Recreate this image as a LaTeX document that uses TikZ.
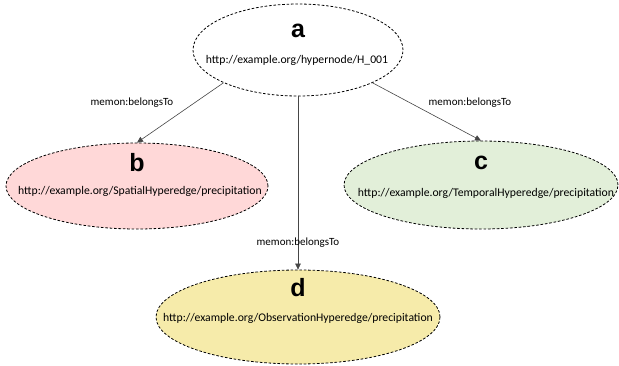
\documentclass[tikz,border=0pt]{standalone}
\usepackage{fontspec}
\setmainfont{Carlito}
\newfontfamily\letterfont{Liberation Sans}
\usetikzlibrary{shapes.geometric,arrows.meta}
\definecolor{spatialfill}{RGB}{255,216,216}
\definecolor{temporalfill}{RGB}{226,239,217}
\definecolor{observfill}{RGB}{246,235,170}
\definecolor{edgegray}{RGB}{70,70,70}
\tikzset{
  hnode/.style={ellipse, draw=black, line width=0.8pt, dash pattern=on 2.6pt off 1.8pt, inner sep=0pt},
  letter/.style={font=\letterfont\bfseries\fontsize{25}{25}\selectfont, inner sep=0pt},
  uri/.style={font=\fontsize{11.7}{13}\selectfont, inner sep=0pt},
  rel/.style={font=\fontsize{11}{12}\selectfont, inner sep=0pt},
  link/.style={draw=edgegray, line width=0.6pt, -{Triangle[length=6pt,width=5.5pt]}}
}
\begin{document}
\begin{tikzpicture}[x=1pt,y=-1pt]
\useasboundingbox (0,0) rectangle (619,365);
% hypernode and its three hyperedges
\node[hnode, fill=white, minimum width=210pt, minimum height=92pt] (a) at (298,50) {};
\node[hnode, fill=spatialfill, minimum width=262pt, minimum height=86pt] (b) at (137,186) {};
\node[hnode, fill=temporalfill, minimum width=274pt, minimum height=88pt] (c) at (481,185) {};
\node[hnode, fill=observfill, minimum width=284pt, minimum height=94pt] (d) at (298,317) {};
% labels inside the ellipses
\node[letter] (la) at (298,31) {a};
\node[uri] (ua) at (297,60) {http://example.org/hypernode/H\_001};
\node[letter] (lb) at (137,163) {b};
\node[uri] (ub) at (140,191) {http://example.org/SpatialHyperedge/precipitation};
\node[letter] (lc) at (481,163) {c};
\node[uri] (uc) at (486,193) {http://example.org/TemporalHyperedge/precipitation};
\node[letter] (ld) at (298,288) {d};
\node[uri] (ud) at (298,318) {http://example.org/ObservationHyperedge/precipitation};
% membership links
\draw[link] (a.south west) -- (b.north);
\draw[link] (a.south east) -- (c.north);
\draw[link] (a.south) -- (d.north);
\node[rel] (r1) at (132,103) {memon:belongsTo};
\node[rel] (r2) at (470,103) {memon:belongsTo};
\node[rel] (r3) at (298,243) {memon:belongsTo};
\end{tikzpicture}
\end{document}
